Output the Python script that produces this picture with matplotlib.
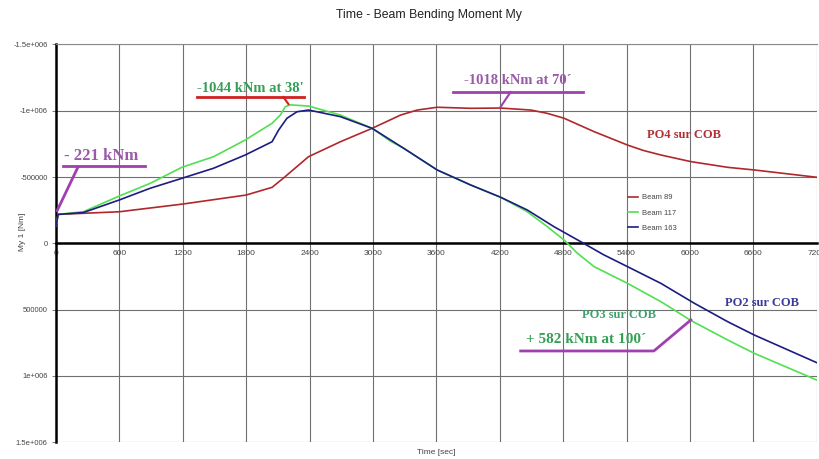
import matplotlib
matplotlib.use("Agg")
import matplotlib.pyplot as plt
from matplotlib.ticker import FixedLocator, FixedFormatter

# ---------------- data ----------------
t_89 = [0, 20, 600, 1200, 1800, 2045, 2150, 2390, 2692, 2992, 3261, 3420, 3608, 3924, 4209,
        4493, 4650, 4809, 5093, 5409, 5560, 5725, 6009, 6357, 6610, 7200]
m_89 = [-130000, -218000, -238000, -296000, -364000, -422000, -490000, -653000, -766000,
        -867000, -967000, -1005000, -1026000, -1018000, -1020000, -1005000, -980000,
        -943000, -842000, -741000, -700000, -666000, -616000, -573000, -553000, -498000]

t_117 = [0, 20, 259, 600, 891, 1191, 1491, 1791, 2045, 2123, 2170, 2218, 2391, 2692,
         2992, 3166, 3292, 3608, 3924, 4209, 4461, 4651, 4809, 4935, 5093, 5409, 5725, 6009,
         6357, 6610, 7200]
m_117 = [-130000, -218000, -238000, -357000, -452000, -573000, -653000, -779000, -905000,
         -967000, -1030000, -1044000, -1035000, -967000, -867000, -770000, -716000,
         -553000, -440000, -347000, -238000, -125000, -25000, 75000, 176000, 302000, 440000,
         582000, 729000, 830000, 1031000]

t_163 = [0, 20, 259, 600, 891, 1191, 1491, 1791, 2045, 2107, 2186, 2281, 2391, 2692,
         2992, 3292, 3608, 3924, 4209, 4461, 4714, 4967, 5180, 5409, 5725, 6041, 6357, 6610,
         7200]
m_163 = [-130000, -218000, -232000, -327000, -415000, -490000, -566000, -666000, -766000,
         -854000, -943000, -992000, -1005000, -955000, -867000, -716000, -553000, -440000,
         -347000, -251000, -125000, -12000, 85000, 176000, 302000, 452000, 591000, 692000,
         900000]

series_names = ["Beam 89", "Beam 117", "Beam 163"]
x_ticks = [0, 600, 1200, 1800, 2400, 3000, 3600, 4200, 4800, 5400, 6000, 6600, 7200]
y_ticks = [-1500000, -1000000, -500000, 0, 500000, 1000000, 1500000]
y_tick_labels = ["-1.5e+006", "-1e+006", "-500000", "0", "500000", "1e+006", "1.5e+006"]

# ---------------- figure ----------------
plt.rcParams['font.family'] = ['Liberation Sans', 'DejaVu Sans']
fig = plt.figure(figsize=(8.19, 4.59), dpi=100)
ax = fig.add_axes([56/819, 1 - 442.2/459, 760.7/819, 397.8/459])

c89, c117, c163 = "#b0282c", "#50e050", "#1c1c82"
ax.plot(t_89, m_89, color=c89, lw=1.2, label=series_names[0], zorder=3)
ax.plot(t_117, m_117, color=c117, lw=1.2, label=series_names[1], zorder=3)
ax.plot(t_163, m_163, color=c163, lw=1.2, label=series_names[2], zorder=4)

ax.set_xlim(0, 7200)
ax.set_ylim(1500000, -1500000)

ax.xaxis.set_major_locator(FixedLocator(x_ticks))
ax.yaxis.set_major_locator(FixedLocator(y_ticks))
ax.yaxis.set_major_formatter(FixedFormatter(y_tick_labels))

ax.grid(True, color="#6f6f6f", lw=0.8)
ax.spines['bottom'].set_position(('data', 0))
ax.spines['bottom'].set_linewidth(1.8)
ax.spines['bottom'].set_color('black')
ax.spines['left'].set_linewidth(1.8)
ax.spines['left'].set_color('black')
ax.spines['top'].set_color('#8a8a8a')
ax.spines['top'].set_linewidth(0.8)
ax.spines['right'].set_visible(False)

ax.tick_params(axis='x', length=0, pad=5, labelsize=6, labelcolor="#444444")
ax.tick_params(axis='y', length=3, width=0.6, pad=3, labelsize=5.5, labelcolor="#444444",
               color="#666666")
ax.set_axisbelow(True)

fig.text(429/819, 1 - 15/459, "Time - Beam Bending Moment My", ha='center', va='center',
         fontsize=8.8, color="#222222")
fig.text(436/819, 1 - 453/459, "Time [sec]", ha='center', va='center', fontsize=6,
         color="#444444")
fig.text(22/819, 1 - 232/459, "My 1 [Nm]", ha='center', va='center', fontsize=6,
         color="#444444", rotation=90)

leg = ax.legend(loc='upper left', bbox_to_anchor=(0.748, 0.632), frameon=False,
                fontsize=5.5, handlelength=1.3, handletextpad=0.5, labelspacing=1.05,
                borderaxespad=0)
for txt in leg.get_texts():
    txt.set_color("#444444")

serif = ['Liberation Serif', 'DejaVu Serif']
purple = "#a040b0"
green_t = "#35a055"

# - 221 kNm
ax.text(431, -658000, "- 221 kNm", ha='center', va='center', fontsize=12,
        fontweight='bold', family=serif, color="#9a5aa8")
ax.plot([66, 844], [-583000, -583000], color=purple, lw=2, zorder=5)
ax.plot([208, 10], [-575000, -245000], color=purple, lw=2, zorder=5)

# -1044 kNm at 38'
ax.text(1839, -1171000, "-1044 kNm at 38'", ha='center', va='center', fontsize=10.5,
        fontweight='bold', family=serif, color=green_t)
ax.plot([1336, 2351], [-1103000, -1103000], color="#d02020", lw=2, zorder=5)
ax.plot([2152, 2200], [-1103000, -1050000], color="#d02020", lw=1.5, zorder=5)

# -1018 kNm at 70'
ax.text(4370, -1224000, "-1018 kNm at 70\u00b4", ha='center', va='center', fontsize=10.5,
        fontweight='bold', family=serif, color="#9a5aa8")
ax.plot([3754, 4986], [-1141000, -1141000], color=purple, lw=2, zorder=5)
ax.plot([4303, 4209], [-1141000, -1030000], color=purple, lw=1.5, zorder=5)

# curve labels
ax.text(5943, -817000, "PO4 sur COB", ha='center', va='center', fontsize=9,
        fontweight='bold', family=serif, color="#b03035")
ax.text(6682, 450000, "PO2 sur COB", ha='center', va='center', fontsize=9,
        fontweight='bold', family=serif, color="#3a3a9a")
ax.text(5327, 541000, "PO3 sur COB", ha='center', va='center', fontsize=9,
        fontweight='bold', family=serif, color="#40a070")

# + 582 kNm at 100'
ax.text(5014, 722000, "+ 582 kNm at 100\u00b4", ha='center', va='center', fontsize=11,
        fontweight='bold', family=serif, color=green_t)
ax.plot([4398, 5659, 6009], [812000, 812000, 578000], color=purple, lw=2, zorder=5)

fig.savefig("out.png", dpi=100)
